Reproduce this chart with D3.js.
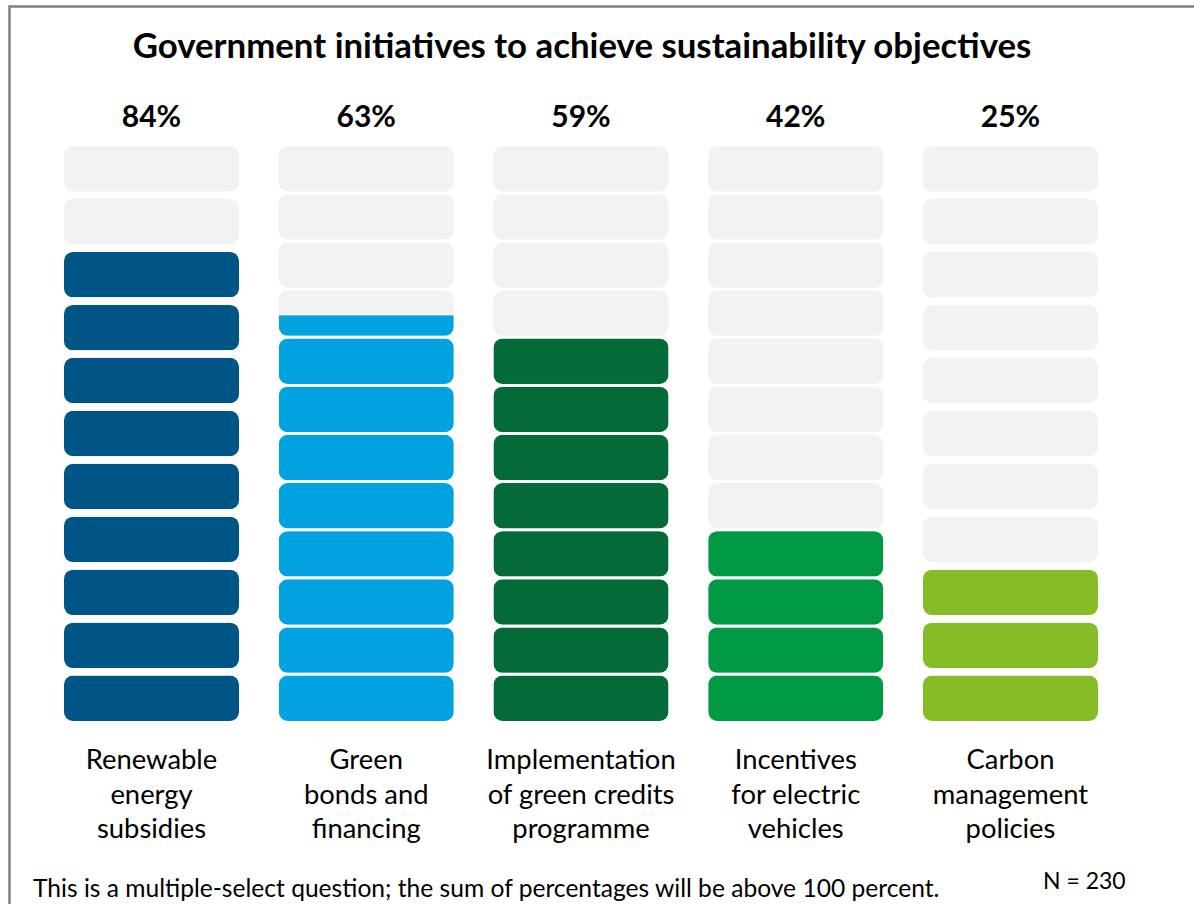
<!DOCTYPE html>
<html>
<head>
<meta charset="utf-8">
<script src="https://cdn.jsdelivr.net/npm/d3@7"></script>
<style>
  body { margin: 0; background: #fff; }
  svg text { font-family: Lato, "Open Sans", sans-serif; fill: #000; }
</style>
</head>
<body>
<svg width="1194" height="904"></svg>
<script>
// chart data
const categories = [
    ["Renewable", "energy", "subsidies"],
    ["Green", "bonds and", "financing"],
    ["Implementation", "of green credits", "programme"],
    ["Incentives", "for electric", "vehicles"],
    ["Carbon", "management", "policies"]
]
const percentLabels = ["84%", "63%", "59%", "42%", "25%"]
const blockCounts = [11, 12, 12, 12, 11]
const filledBlocks = [9, 8.45, 8, 4, 3]
const colors = ["#005587", "#00A3E0", "#046A38", "#009A44", "#86BC25"]
const emptyColor = "#F2F2F2"

const svg = d3.select("svg")

// frame
svg.append("rect")
    .attr("x", 9.5).attr("y", 6.5)
    .attr("width", 1200).attr("height", 910)
    .attr("fill", "none")
    .attr("stroke", "#808080")
    .attr("stroke-width", 2.5)

svg.append("text")
    .attr("x", 582).attr("y", 58)
    .attr("text-anchor", "middle")
    .style("font-weight", "bold")
    .style("font-size", "34.8px")
    .text("Government initiatives to achieve sustainability objectives")

const x = d3.scaleBand()
    .domain(d3.range(categories.length))
    .range([64, 1098])
    .paddingInner(0.185)
    .paddingOuter(0)

const blockH = 45.4
const stackBottom = 721
const stackTop = 146
const radius = 9

const defs = svg.append("defs")

const cols = svg.selectAll("g.col")
    .data(categories.map((c, i) => ({
        lines: c, i, n: blockCounts[i], filled: filledBlocks[i],
        color: colors[i], pct: percentLabels[i]
    })))
    .enter().append("g")
    .attr("class", "col")
    .attr("transform", d => `translate(${x(d.i)},0)`)

cols.each(function (d) {
    const g = d3.select(this)
    const y = d3.scaleLinear().domain([0, d.n - 1]).range([stackBottom - blockH, stackTop])
    const w = x.bandwidth()

    const blocks = d3.range(d.n).map(k => ({
        k, frac: Math.max(0, Math.min(1, d.filled - k))
    }))

    blocks.forEach(b => {
        const yy = y(b.k)
        const clipId = `clip-${d.i}-${b.k}`
        defs.append("clipPath").attr("id", clipId)
            .append("rect")
            .attr("x", 0).attr("y", yy)
            .attr("width", w).attr("height", blockH)
            .attr("rx", radius).attr("ry", radius)

        g.append("rect")
            .attr("x", 0).attr("y", yy)
            .attr("width", w).attr("height", blockH)
            .attr("rx", radius).attr("ry", radius)
            .attr("fill", emptyColor)

        if (b.frac > 0) {
            g.append("rect")
                .attr("clip-path", `url(#${clipId})`)
                .attr("x", 0).attr("y", yy + blockH * (1 - b.frac))
                .attr("width", w).attr("height", blockH * b.frac)
                .attr("fill", d.color)
        }
    })

    g.append("text")
        .attr("x", w / 2).attr("y", 127)
        .attr("text-anchor", "middle")
        .style("font-weight", "bold")
        .style("font-size", "30px")
        .text(d.pct)

    const label = g.append("text")
        .attr("text-anchor", "middle")
        .style("font-size", "27.4px")
    label.selectAll("tspan")
        .data(d.lines)
        .enter().append("tspan")
        .attr("x", w / 2)
        .attr("y", (t, j) => 769 + j * 34.5)
        .text(t => t)
})

svg.append("text")
    .attr("x", 33).attr("y", 897)
    .style("font-size", "24.6px")
    .text("This is a multiple-select question; the sum of percentages will be above 100 percent.")

svg.append("text")
    .attr("x", 1043).attr("y", 889)
    .style("font-size", "23px")
    .text("N = 230")
</script>
</body>
</html>
